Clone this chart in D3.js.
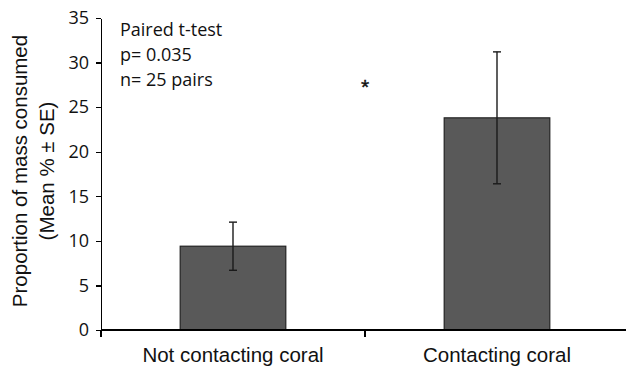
<!DOCTYPE html>
<html>
<meta charset="utf-8">
<style>
body { margin: 0; background: #fff; }
.tick text { font-family: "Open Sans", sans-serif; font-size: 18px; fill: #111; }
.axis path, .axis line { stroke: #000; stroke-width: 1.3; shape-rendering: crispEdges; }
.cat { font-family: "Liberation Sans", Arial, sans-serif; font-size: 20.5px; fill: #111; }
.note { font-family: "Open Sans", sans-serif; font-size: 18px; fill: #111; }
</style>
<body>
<script src="https://d3js.org/d3.v7.min.js"></script>
<script>
var categories = ["Not contacting coral", "Contacting coral"];
var means = [9.4, 23.8];
var errors = [2.7, 7.4];
var yTicks = [0, 5, 10, 15, 20, 25, 30, 35];
var notes = ["Paired t-test", "p= 0.035", "n= 25 pairs"];

var margin = {top: 18, right: -3, bottom: 38, left: 101},
    width = 626 - margin.left - margin.right,
    height = 368 - margin.top - margin.bottom;

var svg = d3.select("body").append("svg")
    .attr("width", 626)
    .attr("height", 368)
  .append("g")
    .attr("transform", "translate(" + margin.left + "," + margin.top + ")");

var x = d3.scaleBand().domain(categories).range([0, width]).padding(0);
var y = d3.scaleLinear().domain([0, 35]).range([height, 0]);
var barW = x.bandwidth() * 0.4;

// y axis
svg.append("g")
    .attr("class", "axis")
    .call(d3.axisLeft(y).tickValues(yTicks).tickSize(5).tickSizeOuter(0).tickPadding(7));

// bars
svg.selectAll(".bar")
    .data(categories)
  .enter().append("rect")
    .attr("class", "bar")
    .attr("x", function(d) { return x(d) + x.bandwidth() / 2 - barW / 2; })
    .attr("y", function(d, i) { return y(means[i]); })
    .attr("width", barW)
    .attr("height", function(d, i) { return height - y(means[i]); })
    .style("fill", "#595959")
    .style("stroke", "#222")
    .style("stroke-width", 1.2);

// error bars
var eb = svg.selectAll(".err")
    .data(categories)
  .enter().append("g")
    .attr("class", "err")
    .style("stroke", "#1a1a1a")
    .style("stroke-width", 1.4);
eb.append("line")
    .attr("x1", function(d) { return x(d) + x.bandwidth() / 2; })
    .attr("x2", function(d) { return x(d) + x.bandwidth() / 2; })
    .attr("y1", function(d, i) { return y(means[i] + errors[i]); })
    .attr("y2", function(d, i) { return y(means[i] - errors[i]); });
[1, -1].forEach(function(s) {
  eb.append("line")
      .attr("x1", function(d) { return x(d) + x.bandwidth() / 2 - 4; })
      .attr("x2", function(d) { return x(d) + x.bandwidth() / 2 + 4; })
      .attr("y1", function(d, i) { return y(means[i] + s * errors[i]); })
      .attr("y2", function(d, i) { return y(means[i] + s * errors[i]); });
});

// x axis: baseline plus ticks at band edges
var xg = svg.append("g").attr("class", "axis");
xg.append("line")
    .attr("x1", 0).attr("x2", width + 5)
    .attr("y1", height).attr("y2", height);
xg.selectAll(".xt")
    .data([0, 1, 2])
  .enter().append("line")
    .attr("class", "xt")
    .attr("x1", function(d) { return d * x.step(); })
    .attr("x2", function(d) { return d * x.step(); })
    .attr("y1", height)
    .attr("y2", height + 7);

svg.selectAll(".cat")
    .data(categories)
  .enter().append("text")
    .attr("class", "cat")
    .attr("x", function(d) { return x(d) + x.bandwidth() / 2; })
    .attr("y", height + 32)
    .attr("text-anchor", "middle")
    .text(function(d) { return d; });

// y axis title
var yt = svg.append("text")
    .attr("class", "cat")
    .attr("transform", "translate(-74," + (height / 2 - 3) + ") rotate(-90)")
    .attr("text-anchor", "middle");
yt.append("tspan").attr("x", 0).attr("dy", 0).text("Proportion of mass consumed");
yt.append("tspan").attr("x", 0).attr("dy", 27).text("(Mean % \u00b1 SE)");

// test annotation
svg.selectAll(".note")
    .data(notes)
  .enter().append("text")
    .attr("class", "note")
    .attr("x", 19)
    .attr("y", function(d, i) { return 18 + i * 25; })
    .text(function(d) { return d; });

svg.append("text")
    .attr("class", "cat")
    .attr("x", x.step())
    .attr("y", y(27.6) + 10)
    .attr("text-anchor", "middle")
    .style("font-size", "21px")
    .style("stroke", "#111")
    .style("stroke-width", 0.4)
    .text("*");
</script>
</body>
</html>
